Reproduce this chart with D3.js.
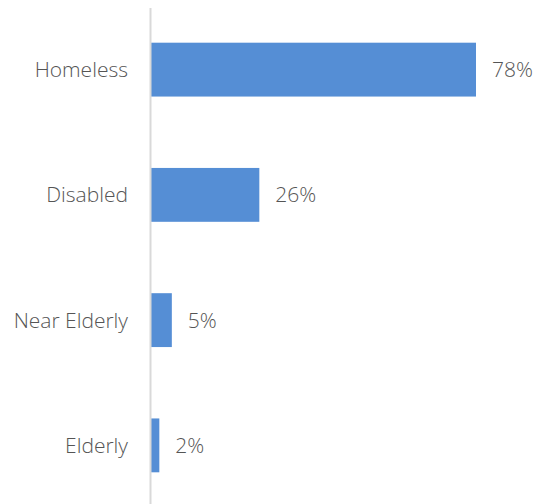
<!DOCTYPE html>
<html><head><meta charset="utf-8">
<script src="https://cdn.jsdelivr.net/npm/d3@7"></script>
<style>html,body{margin:0;padding:0;background:#fff;}svg{display:block;}</style>
</head><body><svg id="c" width="539" height="504"></svg>
<script>
const categories = ["Homeless", "Disabled", "Near Elderly", "Elderly"];
const values = [78, 26, 5, 2];
const valueLabels = ["78%", "26%", "5%", "2%"];

const svg = d3.select("#c");
const x = d3.scaleLinear().domain([0, 78]).range([151, 476]);
const y = d3.scaleBand().domain(categories).range([7, 508]).paddingInner(0.57).paddingOuter(0.285);
const font = "'Open Sans', sans-serif";
const col = "#555555";

svg.selectAll("rect.bar").data(categories).enter().append("rect")
  .attr("class", "bar")
  .attr("x", x(0))
  .attr("y", d => y(d))
  .attr("width", (d, i) => x(values[i]) - x(0))
  .attr("height", y.bandwidth())
  .attr("fill", "#558ED5");

svg.append("line").attr("x1", 150.5).attr("x2", 150.5).attr("y1", 8).attr("y2", 504)
  .attr("stroke", "#d9d9d9").attr("stroke-width", 2);

svg.selectAll("text.cat").data(categories).enter().append("text")
  .attr("class", "cat")
  .attr("x", 128)
  .attr("y", d => y(d) + y.bandwidth() / 2)
  .attr("dy", "0.36em")
  .attr("text-anchor", "end")
  .attr("font-family", font).attr("font-weight", 300).attr("font-size", 21)
  .attr("fill", col)
  .text(d => d);

svg.selectAll("text.val").data(categories).enter().append("text")
  .attr("class", "val")
  .attr("x", (d, i) => x(values[i]) + 16)
  .attr("y", d => y(d) + y.bandwidth() / 2)
  .attr("dy", "0.36em")
  .attr("font-family", font).attr("font-weight", 300).attr("font-size", 21)
  .attr("fill", col)
  .text((d, i) => valueLabels[i]);
</script></body></html>
